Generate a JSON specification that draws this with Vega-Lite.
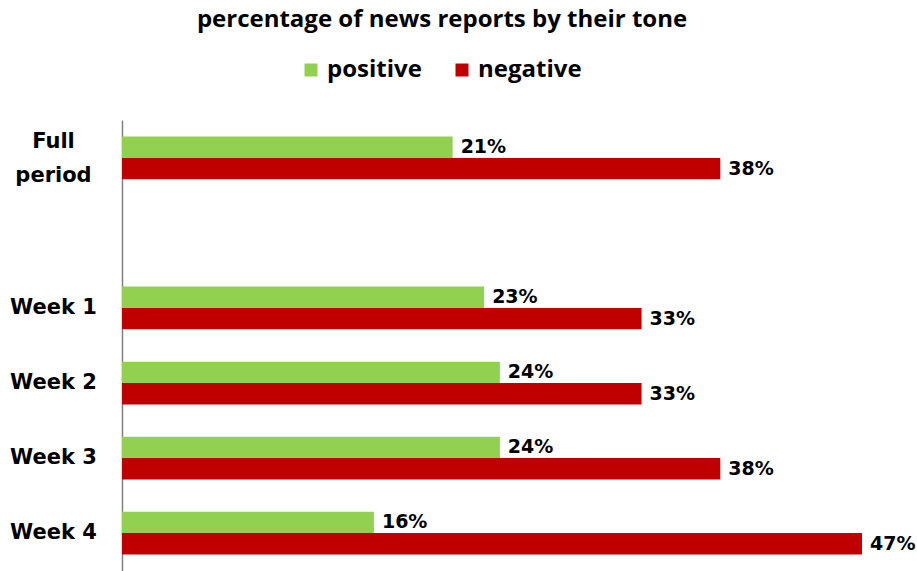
{
  "$schema": "https://vega.github.io/schema/vega-lite/v6.json",
  "width": 740,
  "height": 451,
  "autosize": {"type": "none"},
  "padding": {"left": 122, "top": 120, "right": 55, "bottom": 0},
  "background": "white",
  "title": {
    "text": "percentage of news reports by their tone",
    "font": "Open Sans",
    "fontSize": 24,
    "fontWeight": "bold",
    "color": "black",
    "anchor": "middle",
    "dx": -50,
    "offset": 26
  },
  "data": {
    "values": [
      {"period": "Full period", "tone": "positive", "value": 21},
      {"period": "Full period", "tone": "negative", "value": 38},
      {"period": "Week 1", "tone": "positive", "value": 23},
      {"period": "Week 1", "tone": "negative", "value": 33},
      {"period": "Week 2", "tone": "positive", "value": 24},
      {"period": "Week 2", "tone": "negative", "value": 33},
      {"period": "Week 3", "tone": "positive", "value": 24},
      {"period": "Week 3", "tone": "negative", "value": 38},
      {"period": "Week 4", "tone": "positive", "value": 16},
      {"period": "Week 4", "tone": "negative", "value": 47}
    ]
  },
  "transform": [{"calculate": "datum.value + '%'", "as": "label"}],
  "encoding": {
    "y": {
      "field": "period",
      "type": "nominal",
      "title": null,
      "scale": {
        "domain": ["Full period", " ", "Week 1", "Week 2", "Week 3", "Week 4"],
        "paddingInner": 0.43,
        "paddingOuter": 0.22
      },
      "axis": {
        "domainColor": "#808080",
        "domainWidth": 1.5,
        "ticks": false,
        "tickSize": 0,
        "labelAlign": "center",
        "labelPadding": 69,
        "labelFont": "DejaVu Sans",
        "labelFontWeight": "bold",
        "labelFontSize": 21,
        "labelColor": "black",
        "labelLineHeight": 34,
        "labelOffset": {"condition": {"test": "datum.value == 'Full period'", "value": -16}, "value": 0},
        "labelExpr": "datum.value == 'Full period' ? ['Full', 'period'] : datum.value"
      }
    },
    "yOffset": {"field": "tone", "type": "nominal", "sort": ["positive", "negative"]},
    "x": {"field": "value", "type": "quantitative", "scale": {"domain": [0, 47], "nice": false, "zero": true}, "axis": null}
  },
  "layer": [
    {
      "mark": {"type": "bar"},
      "encoding": {
        "color": {
          "field": "tone",
          "type": "nominal",
          "scale": {"domain": ["positive", "negative"], "range": ["#92D050", "#C00000"]},
          "legend": {
            "title": null,
            "orient": "none",
            "legendX": 177,
            "legendY": -62,
            "direction": "horizontal",
            "symbolType": "square",
            "symbolSize": 169,
            "symbolStrokeWidth": 0,
            "symbolOpacity": 1,
            "labelFont": "Open Sans",
            "labelFontSize": 24,
            "labelFontWeight": "bold",
            "labelColor": "black",
            "labelOffset": 4,
            "columnPadding": 28
          }
        }
      }
    },
    {
      "mark": {
        "type": "text",
        "align": "left",
        "baseline": "middle",
        "dx": 8,
        "font": "DejaVu Sans",
        "fontWeight": "bold",
        "fontSize": 19,
        "color": "black"
      },
      "encoding": {"text": {"field": "label"}}
    }
  ],
  "config": {"view": {"stroke": null}}
}
